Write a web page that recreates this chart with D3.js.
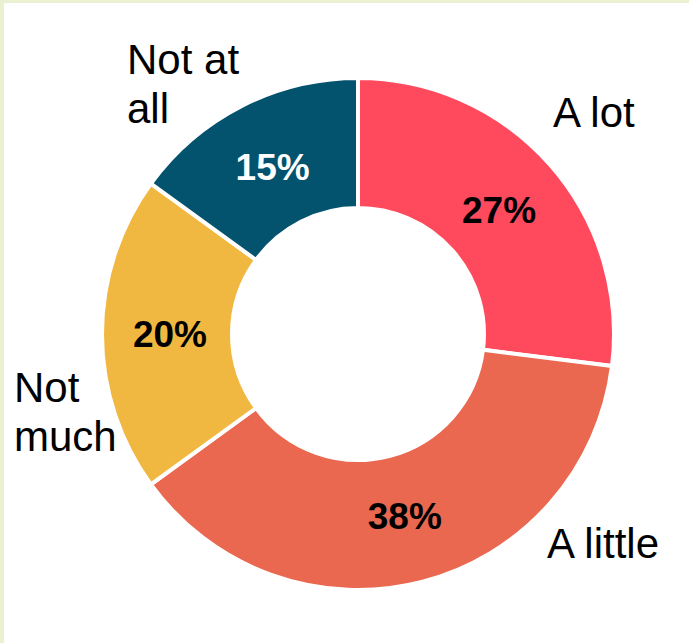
<!DOCTYPE html>
<html><head><meta charset="utf-8">
<script src="https://cdn.jsdelivr.net/npm/d3@7/dist/d3.min.js"></script>
<style>
html,body{margin:0;padding:0;background:#fff;}
svg{display:block;font-family:"Liberation Sans",Arial,sans-serif;}
</style></head>
<body>
<svg id="chart" width="689" height="643"></svg>
<script>
const categories = ["A lot", "A little", "Not much", "Not at all"];
const values = [27, 38, 20, 15];
const colors = ["#FF4A5E", "#E9684F", "#F1B841", "#03526E"];
const valueLabelColors = ["#000", "#000", "#000", "#fff"];

const svg = d3.select("#chart");
const W = 689, H = 643;
// frame
svg.append("rect").attr("x",0).attr("y",0).attr("width",W).attr("height",H).attr("fill","#EAF0D2");
svg.append("rect").attr("x",4).attr("y",3).attr("width",W-4).attr("height",H-3).attr("fill","#fff");

const cx = 358, cy = 334, rOuter = 256, rInner = 126;
const g = svg.append("g").attr("transform",`translate(${cx},${cy})`);
const pie = d3.pie().sort(null).value(d => d.value);
const data = pie(categories.map((c,i)=>({cat:c, value:values[i], i})));
const arc = d3.arc().innerRadius(rInner).outerRadius(rOuter);
g.selectAll("path.slice").data(data).join("path")
  .attr("class","slice")
  .attr("d", arc)
  .attr("fill", d => colors[d.data.i])
  .attr("stroke","#fff").attr("stroke-width",4).attr("stroke-linejoin","miter");

const labelArc = d3.arc().innerRadius(188).outerRadius(188);
g.selectAll("text.val").data(data).join("text")
  .attr("class","val")
  .attr("transform", d => `translate(${labelArc.centroid(d)})`)
  .attr("text-anchor","middle").attr("dy","0.36em")
  .attr("font-size",37).attr("font-weight","bold")
  .attr("fill", d => valueLabelColors[d.data.i])
  .text(d => d.data.value + "%");

// category labels (layout positions)
const catLayout = [
  {x:553, y:127, lines:["A lot"]},
  {x:547, y:558, lines:["A little"]},
  {x:14, y:402, lines:["Not","much"]},
  {x:127, y:74, lines:["Not at","all"]}
];
categories.forEach((c,i)=>{
  const L = catLayout[i];
  const t = svg.append("text").attr("x",L.x).attr("y",L.y)
    .attr("font-size",42).attr("fill","#000");
  L.lines.forEach((p,j)=>{
    t.append("tspan").attr("x",L.x).attr("dy", j===0?0:49).text(p);
  });
});
</script>
</body></html>
